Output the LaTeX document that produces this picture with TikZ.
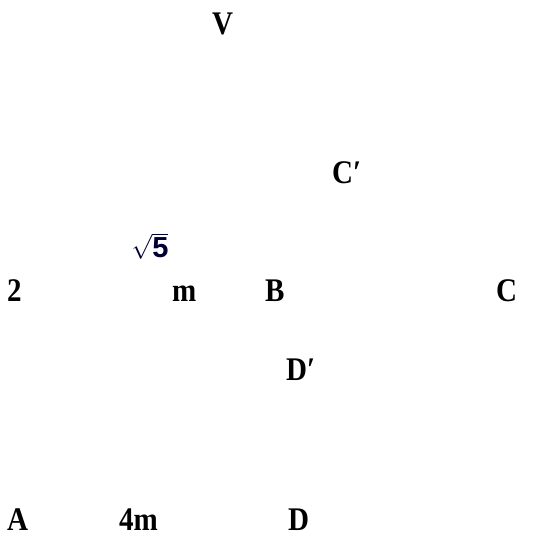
\documentclass[tikz,border=0pt]{standalone}
\usepackage{fontspec}
\setmainfont{Liberation Serif}[FakeStretch=0.88]
\setsansfont{Liberation Sans}
\usetikzlibrary{positioning}

\begin{document}
\begin{tikzpicture}[x=1pt, y=-1pt,
            every node/.style={inner sep=0pt, anchor=base west, font=\fontsize{33}{40}\selectfont\bfseries},
            root/.style={anchor=center, font=\fontsize{29}{34}\selectfont\sffamily\bfseries, text=black!80!blue}
        ]
        \useasboundingbox (0,0) rectangle (556,539);

        \node (V) at (212, 34) {V};
        \node (Cp) at (332, 183) {C′};
        \node[root] (r5) at (150, 246) {$\sqrt{\mbox{5}}$};

        \node (two) at (7, 301) {2};
        \node (m) at (172, 301) {m};
        \node (B) at (265, 301) {B};
        \node (C) at (496, 301) {C};

        \node (Dp) at (286, 380) {D′};

        \node (A) at (7, 530) {A};
        \node (fourm) at (119, 530) {4m};
        \node (D) at (288, 530) {D};
\end{tikzpicture}
\end{document}
